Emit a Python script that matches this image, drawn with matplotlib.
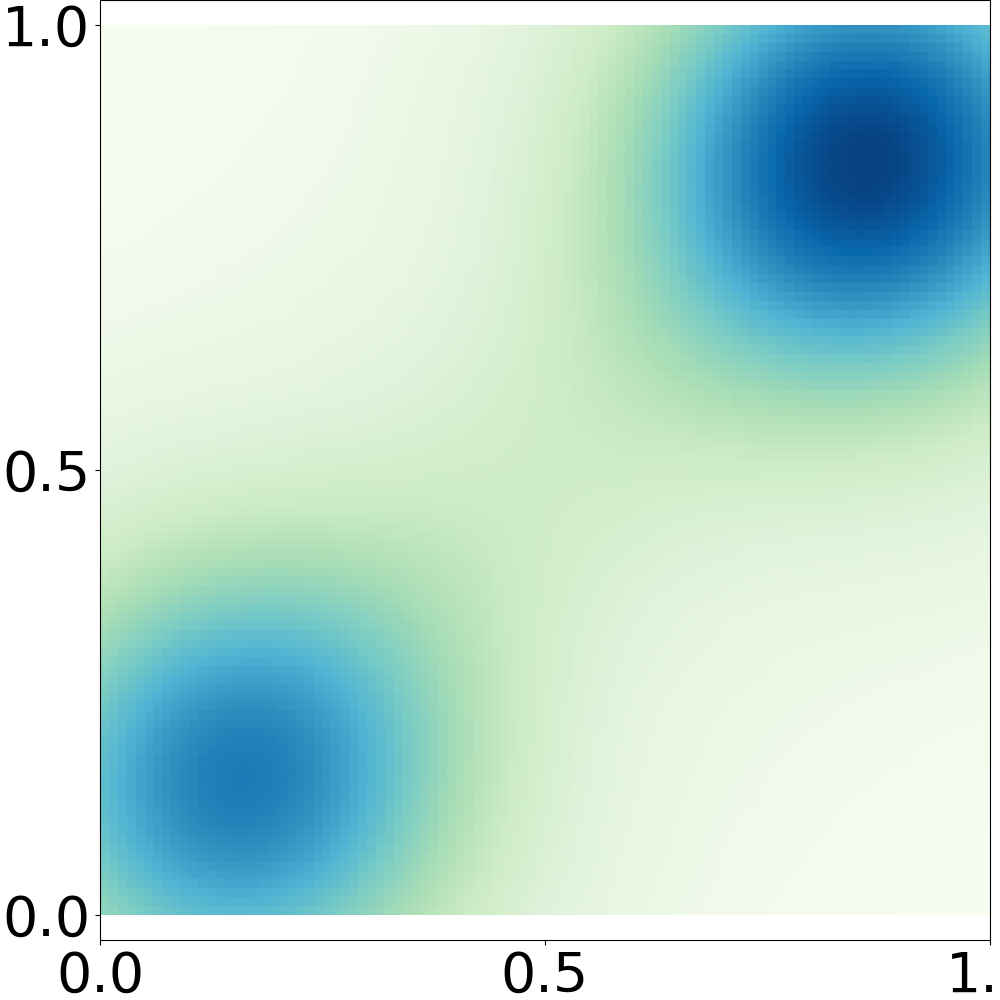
#!/usr/bin/env python3
"""Two-bump field drawn as a 100x100 GnBu heatmap."""

import matplotlib

matplotlib.use("Agg")
import matplotlib.pyplot as plt
import numpy as np

# Bump parameters: centre, spread along / across the
# main diagonal, and peak height. Each blob is a sharp core plus a wide halo,
# the last entry is the faint ridge joining the two blobs.
bump_x = [0.865, 0.865, 0.155, 0.155, 0.50]
bump_y = [0.850, 0.850, 0.148, 0.148, 0.50]
bump_sigma_along = [0.18, 0.35, 0.18, 0.36, 0.30]
bump_sigma_across = [0.18, 0.35, 0.18, 0.36, 0.13]
bump_peak = [0.85, 0.15, 0.68, 0.12, 0.12]

n_cells = 100
tick_values = [0.0, 0.5, 1.0]
tick_labels = ["0.0", "0.5", "1.0"]


def field(xx: np.ndarray, yy: np.ndarray) -> np.ndarray:
    z = np.zeros_like(xx)
    for cx, cy, sa, sc, a in zip(bump_x, bump_y, bump_sigma_along, bump_sigma_across, bump_peak):
        u = ((xx - cx) + (yy - cy)) / np.sqrt(2)
        v = ((xx - cx) - (yy - cy)) / np.sqrt(2)
        z += a * np.exp(-(u**2 / (2 * sa**2) + v**2 / (2 * sc**2)))
    return z


def main() -> None:
    edges = np.linspace(0, 1, n_cells + 1)
    centres = 0.5 * (edges[:-1] + edges[1:])
    xx, yy = np.meshgrid(centres, centres)
    z = field(xx, yy)

    fig = plt.figure(figsize=(10, 10), dpi=100)
    ax = fig.add_axes([0.1, 0.06, 0.89, 0.94])
    ax.pcolormesh(edges, edges, z, cmap="GnBu", shading="flat")
    ax.set_xlim(0, 1)
    ax.set_ylim(-0.028, 1.028)
    ax.set_xticks(tick_values)
    ax.set_xticklabels(tick_labels)
    ax.set_yticks(tick_values)
    ax.set_yticklabels(tick_labels)
    ax.tick_params(labelsize=40)
    fig.savefig("out.png", dpi=100)
    plt.close(fig)


if __name__ == "__main__":
    main()
